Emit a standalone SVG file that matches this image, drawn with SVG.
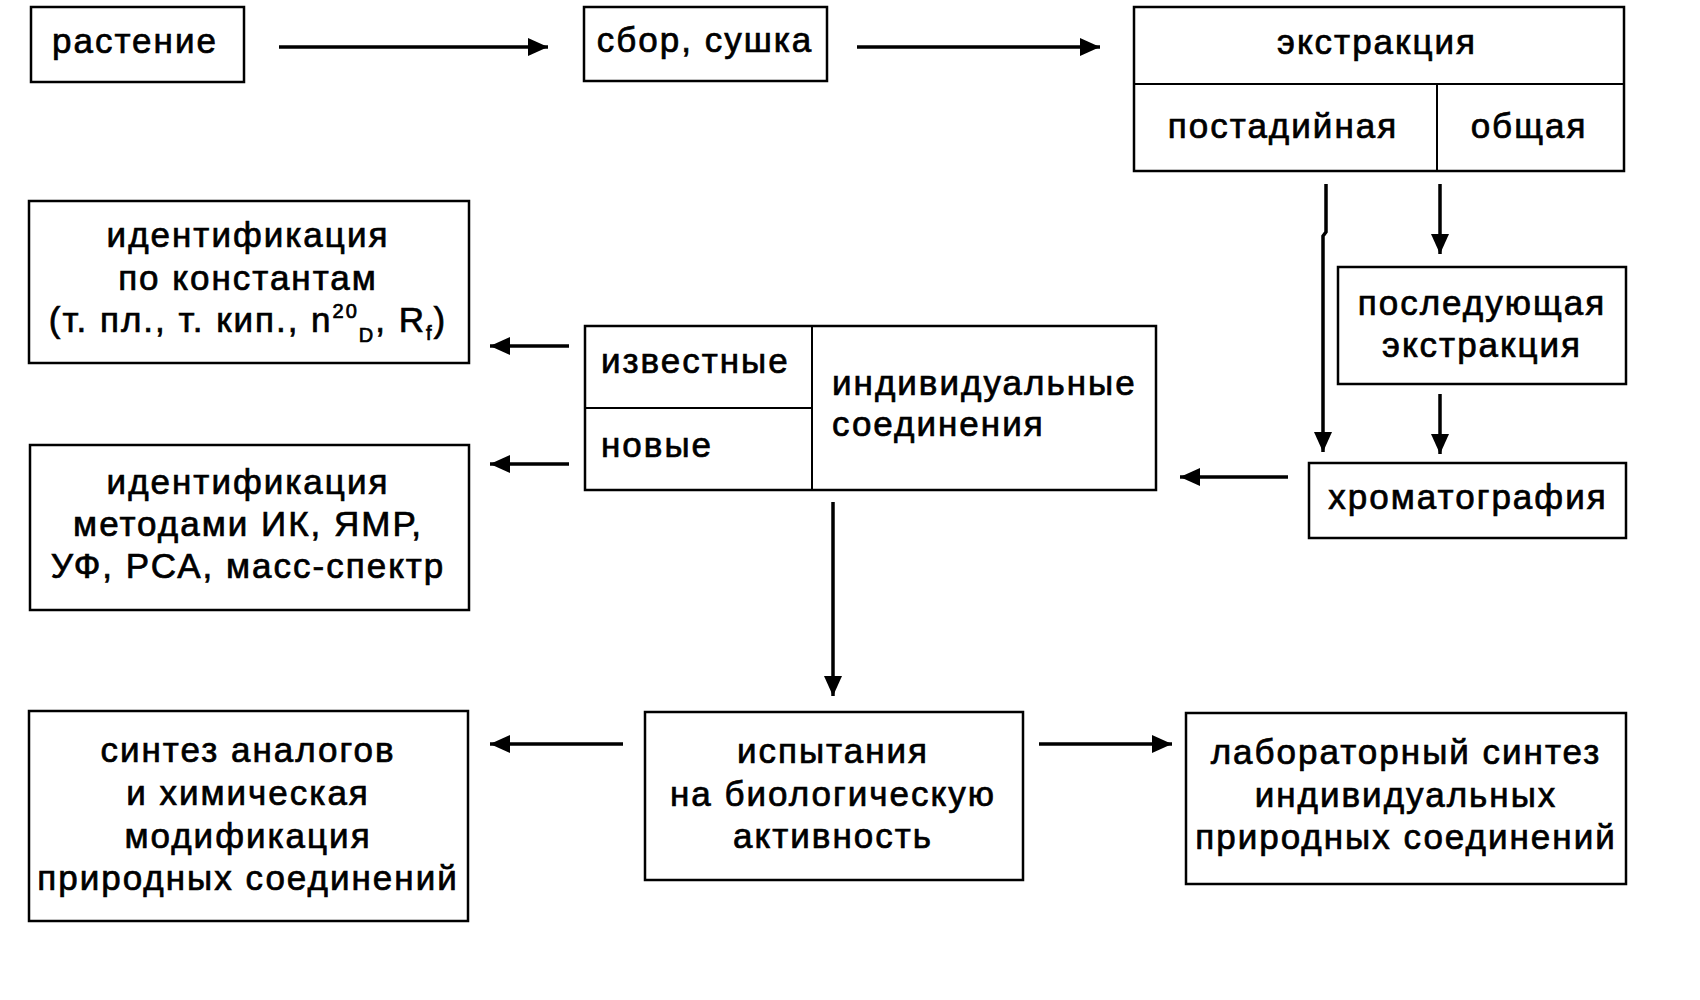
<svg xmlns="http://www.w3.org/2000/svg" width="1700" height="1000" viewBox="0 0 1700 1000">
<style>
.box{fill:none;stroke:#000;stroke-width:2.5}
.div{stroke:#000;stroke-width:2}
.t{font-family:"Liberation Sans","DejaVu Sans",Arial,sans-serif;font-size:35px;fill:#000;stroke:#000;stroke-width:0.7;letter-spacing:2px}
.c{text-anchor:middle}
.con{fill:none;stroke:#000;stroke-width:3.5}
</style>
<defs>
<marker id="ah" markerUnits="userSpaceOnUse" markerWidth="22" markerHeight="18" refX="20" refY="9" orient="auto">
<path d="M0,0 L20,9 L0,18 Z" fill="#000"/>
</marker>
</defs>
<rect width="1700" height="1000" fill="#fff"/>

<g id="n-rastenie">
<rect class="box" x="31" y="7" width="213" height="75"/>
<text class="t c" x="135" y="53">растение</text>
</g>
<g id="n-sbor">
<rect class="box" x="584" y="7" width="243" height="74"/>
<text class="t c" x="705" y="52">сбор, сушка</text>
</g>
<g id="n-ekstr">
<rect class="box" x="1134" y="7" width="490" height="164"/>
<line class="div" x1="1134" y1="84" x2="1624" y2="84"/>
<line class="div" x1="1437" y1="84" x2="1437" y2="171"/>
<text class="t c" x="1377" y="54">экстракция</text>
<text class="t c" x="1283" y="138">постадийная</text>
<text class="t c" x="1529" y="138">общая</text>
</g>
<g id="n-posled">
<rect class="box" x="1338" y="267" width="288" height="117"/>
<text class="t c" x="1482" y="315">последующая</text>
<text class="t c" x="1482" y="357">экстракция</text>
</g>
<g id="n-hrom">
<rect class="box" x="1309" y="463" width="317" height="75"/>
<text class="t c" x="1468" y="509">хроматография</text>
</g>
<g id="n-indiv">
<rect class="box" x="585" y="326" width="571" height="164"/>
<line class="div" x1="812" y1="326" x2="812" y2="490"/>
<line class="div" x1="585" y1="408" x2="812" y2="408"/>
<text class="t" x="601" y="373">известные</text>
<text class="t" x="601" y="457">новые</text>
<text class="t" x="832" y="395">индивидуальные</text>
<text class="t" x="832" y="436">соединения</text>
</g>
<g id="n-ident1">
<rect class="box" x="29" y="201" width="440" height="162"/>
<text class="t c" x="248" y="247">идентификация</text>
<text class="t c" x="248" y="290">по константам</text>
<text class="t c" x="248" y="332">(т. пл., т. кип., n<tspan font-size="20" dy="-14">20</tspan><tspan font-size="20" dy="24">D</tspan><tspan dy="-10">, R</tspan><tspan font-size="20" dy="8">f</tspan><tspan dy="-8">)</tspan></text>
</g>
<g id="n-ident2">
<rect class="box" x="30" y="445" width="439" height="165"/>
<text class="t c" x="248" y="494">идентификация</text>
<text class="t c" x="248" y="536">методами ИК, ЯМР,</text>
<text class="t c" x="248" y="578">УФ, РСА, масс-спектр</text>
</g>
<g id="n-ispyt">
<rect class="box" x="645" y="712" width="378" height="168"/>
<text class="t c" x="833" y="763">испытания</text>
<text class="t c" x="833" y="806">на биологическую</text>
<text class="t c" x="833" y="848">активность</text>
</g>
<g id="n-sintez">
<rect class="box" x="29" y="711" width="439" height="210"/>
<text class="t c" x="248" y="762">синтез аналогов</text>
<text class="t c" x="248" y="805">и химическая</text>
<text class="t c" x="248" y="848">модификация</text>
<text class="t c" x="248" y="890">природных соединений</text>
</g>
<g id="n-lab">
<rect class="box" x="1186" y="713" width="440" height="171"/>
<text class="t c" x="1406" y="764">лабораторный синтез</text>
<text class="t c" x="1406" y="807">индивидуальных</text>
<text class="t c" x="1406" y="849">природных соединений</text>
</g>

<g id="connectors">
<line class="con" x1="279" y1="47" x2="548" y2="47" marker-end="url(#ah)"/>
<line class="con" x1="857" y1="47" x2="1100" y2="47" marker-end="url(#ah)"/>
<path class="con" d="M1326,184 V232 L1323,236 V452" marker-end="url(#ah)"/>
<line class="con" x1="1440" y1="184" x2="1440" y2="254" marker-end="url(#ah)"/>
<line class="con" x1="1440" y1="394" x2="1440" y2="454" marker-end="url(#ah)"/>
<line class="con" x1="1288" y1="477" x2="1180" y2="477" marker-end="url(#ah)"/>
<line class="con" x1="569" y1="346" x2="490" y2="346" marker-end="url(#ah)"/>
<line class="con" x1="569" y1="464" x2="490" y2="464" marker-end="url(#ah)"/>
<line class="con" x1="833" y1="502" x2="833" y2="696" marker-end="url(#ah)"/>
<line class="con" x1="623" y1="744" x2="490" y2="744" marker-end="url(#ah)"/>
<line class="con" x1="1039" y1="744" x2="1172" y2="744" marker-end="url(#ah)"/>
</g>
</svg>
